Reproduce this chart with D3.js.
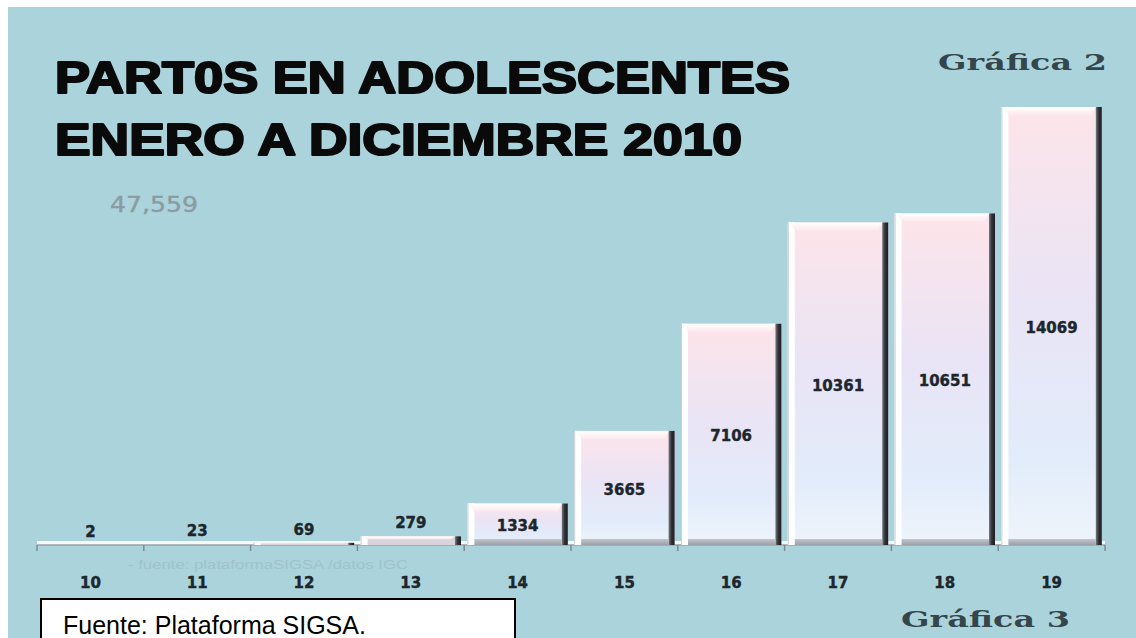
<!DOCTYPE html>
<html>
<head>
<meta charset="utf-8">
<script src="https://cdn.jsdelivr.net/npm/d3@7"></script>
<style>
  html, body { margin: 0; padding: 0; background: #ffffff; }
  svg { display: block; }
</style>
</head>
<body>
<svg id="chart" width="1136" height="638"></svg>
<script>
// Partos en adolescentes por edad, enero a diciembre 2010
const ages = ["10", "11", "12", "13", "14", "15", "16", "17", "18", "19"];
const births = [2, 23, 69, 279, 1334, 3665, 7106, 10361, 10651, 14069];
const titleLines = ["PART0S EN ADOLESCENTES", "ENERO A DICIEMBRE 2010"];
const totalLabel = "47,559";
const sourceNote = "Fuente: Plataforma SIGSA.";
const faintNote = "- fuente: plataformaSIGSA /datos IGC";

const W = 1136, H = 638;
const svg = d3.select("#chart");

// panel background with a thin white margin on top and left
svg.append("rect").attr("width", W).attr("height", H).attr("fill", "#ffffff");
svg.append("rect").attr("x", 8).attr("y", 7).attr("width", W - 8).attr("height", H - 7)
  .attr("fill", "#abd3db");

const defs = svg.append("defs");
const body = defs.append("linearGradient").attr("id", "barBody")
  .attr("x1", 0).attr("y1", 0).attr("x2", 0).attr("y2", 1);
body.append("stop").attr("offset", "0%").attr("stop-color", "#fde4e9");
body.append("stop").attr("offset", "45%").attr("stop-color", "#e9e4f6");
body.append("stop").attr("offset", "80%").attr("stop-color", "#e2ecfa");
body.append("stop").attr("offset", "100%").attr("stop-color", "#eef4fb");

const dark = defs.append("linearGradient").attr("id", "barDark")
  .attr("x1", 0).attr("y1", 0).attr("x2", 1).attr("y2", 0);
dark.append("stop").attr("offset", "0%").attr("stop-color", "#7a7a84");
dark.append("stop").attr("offset", "45%").attr("stop-color", "#33333a");
dark.append("stop").attr("offset", "100%").attr("stop-color", "#1c1c20");

const bevel = defs.append("linearGradient").attr("id", "barBevel")
  .attr("x1", 0).attr("y1", 0).attr("x2", 0).attr("y2", 1);
bevel.append("stop").attr("offset", "0%").attr("stop-color", "#ffffff");
bevel.append("stop").attr("offset", "100%").attr("stop-color", "#fbe9ed");

const foot = defs.append("linearGradient").attr("id", "barFoot")
  .attr("x1", 0).attr("y1", 0).attr("x2", 0).attr("y2", 1);
foot.append("stop").attr("offset", "0%").attr("stop-color", "#c4c6ce");
foot.append("stop").attr("offset", "100%").attr("stop-color", "#9c9ea8");

// scales
const x = d3.scaleBand().domain(ages).range([37, 1105])
  .paddingInner(0.06).paddingOuter(0.03);
const y = d3.scaleLinear().domain([0, d3.max(births)]).range([545, 107]);
const y0 = y(0);

// floor strip along the category axis
svg.append("rect").attr("x", 37).attr("y", y0 - 4).attr("width", 1105 - 37).attr("height", 4)
  .attr("fill", "#f7f8fa");
svg.append("line").attr("x1", 37).attr("x2", 1105).attr("y1", y0).attr("y2", y0)
  .attr("stroke", "#9aa3a8").attr("stroke-width", 1.5);

// tick marks at band boundaries
const step = x.step();
const bounds = ages.map(a => x(a) - (step - x.bandwidth()) / 2).concat([1105]);
svg.append("g").selectAll("line").data(bounds).join("line")
  .attr("x1", d => d).attr("x2", d => d)
  .attr("y1", y0).attr("y2", y0 + 6)
  .attr("stroke", "#7d8a90").attr("stroke-width", 1.5);

// bars with a bevelled look
const data = ages.map((a, i) => ({ age: a, v: births[i] }));
const bars = svg.append("g").selectAll("g").data(data).join("g");

bars.each(function (d) {
  const g = d3.select(this);
  const x0 = x(d.age), bw = x.bandwidth(), x1 = x0 + bw;
  const yt = y(d.v), h = y0 - yt;
  if (h < 1) return;
  const bev = Math.min(8, h * 0.35);
  g.append("rect").attr("x", x0).attr("y", yt).attr("width", bw).attr("height", h)
    .attr("fill", h > 20 ? "url(#barBody)" : "#d9d3dc");
  // left highlight
  g.append("rect").attr("x", x0).attr("y", yt).attr("width", 7).attr("height", h)
    .attr("fill", "#ffffff");
  g.append("line").attr("x1", x0 + 0.5).attr("x2", x0 + 0.5).attr("y1", yt).attr("y2", y0)
    .attr("stroke", "#c9d0d6").attr("stroke-width", 1);
  // right shadow
  g.append("rect").attr("x", x1 - 6).attr("y", yt).attr("width", 6).attr("height", h)
    .attr("fill", "url(#barDark)");
  // top bevel
  g.append("polygon")
    .attr("points", [[x0 + 1, yt], [x1 - 6, yt], [x1 - 10, yt + bev], [x0 + 8, yt + bev]].map(p => p.join(",")).join(" "))
    .attr("fill", "url(#barBevel)");
  // bottom shading
  if (h > 20) {
    g.append("rect").attr("x", x0 + 7).attr("y", y0 - 6).attr("width", bw - 13).attr("height", 6)
      .attr("fill", "url(#barFoot)");
  }
});

// value labels: inside tall bars, above short ones
svg.append("g").selectAll("text").data(data).join("text")
  .attr("x", d => x(d.age) + x.bandwidth() / 2)
  .attr("y", d => {
    const h = y0 - y(d.v);
    return h > 30 ? (y(d.v) + y0) / 2 + 7 : y(d.v) - 8;
  })
  .attr("text-anchor", "middle")
  .attr("font-family", "DejaVu Sans, Verdana, sans-serif")
  .attr("font-weight", "bold")
  .attr("font-size", 15)
  .attr("fill", "#1d262c")
  .attr("stroke", "#1d262c").attr("stroke-width", 0.4)
  .text(d => d.v);

// category labels
svg.append("g").selectAll("text").data(ages).join("text")
  .attr("x", d => x(d) + x.bandwidth() / 2)
  .attr("y", 588)
  .attr("text-anchor", "middle")
  .attr("font-family", "DejaVu Sans, Verdana, sans-serif")
  .attr("font-weight", "bold")
  .attr("font-size", 15)
  .attr("fill", "#1d262c")
  .attr("stroke", "#1d262c").attr("stroke-width", 0.4)
  .text(d => d);

// faint source line under the axis
svg.append("text").attr("x", 128).attr("y", 569)
  .attr("font-family", "Liberation Sans, Arial, sans-serif")
  .attr("font-size", 12).attr("fill", "#9fc3cb")
  .attr("textLength", 280).attr("lengthAdjust", "spacingAndGlyphs")
  .text(faintNote);

// title
const titleY = [93, 155], titleW = [735, 687];
svg.append("g").selectAll("text").data(titleLines).join("text")
  .attr("x", 55).attr("y", (d, i) => titleY[i])
  .attr("font-family", "Liberation Sans, Arial, sans-serif")
  .attr("font-weight", "bold")
  .attr("font-size", 45)
  .attr("fill", "#0a0a0a")
  .attr("stroke", "#0a0a0a").attr("stroke-width", 2.2)
  .attr("stroke-linejoin", "round")
  .attr("textLength", (d, i) => titleW[i]).attr("lengthAdjust", "spacingAndGlyphs")
  .text(d => d);

// total
svg.append("text").attr("x", 110).attr("y", 212)
  .attr("font-family", "DejaVu Sans, Verdana, sans-serif")
  .attr("font-size", 21).attr("fill", "#8a9ca1")
  .attr("stroke", "#8a9ca1").attr("stroke-width", 0.4)
  .attr("textLength", 88).attr("lengthAdjust", "spacingAndGlyphs")
  .text(totalLabel);

// figure tags
const tags = [{ t: "Gráfica 2", x: 938, y: 70 }, { t: "Gráfica 3", x: 901, y: 627 }];
svg.append("g").selectAll("text").data(tags).join("text")
  .attr("x", d => d.x).attr("y", d => d.y)
  .attr("font-family", "DejaVu Serif, serif")
  .attr("font-weight", "bold")
  .attr("font-size", 22)
  .attr("fill", "#34464c")
  .attr("textLength", 169).attr("lengthAdjust", "spacingAndGlyphs")
  .text(d => d.t);

// source box
svg.append("rect").attr("x", 41).attr("y", 599).attr("width", 474).attr("height", 60)
  .attr("fill", "#ffffff").attr("stroke", "#000000").attr("stroke-width", 2);
svg.append("text").attr("x", 63).attr("y", 634)
  .attr("font-family", "Liberation Sans, Arial, sans-serif")
  .attr("font-size", 25).attr("fill", "#000000")
  .text(sourceNote);
</script>
</body>
</html>
